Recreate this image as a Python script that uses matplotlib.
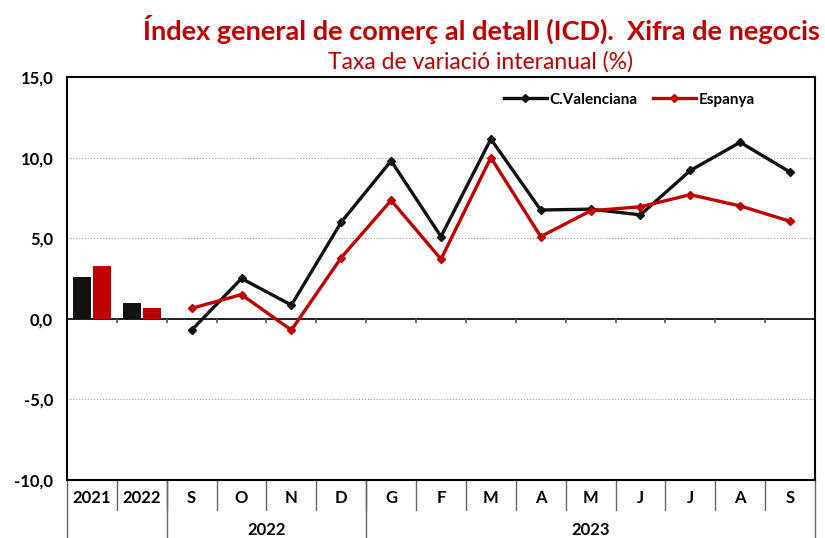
import matplotlib.pyplot as plt
import numpy as np

plt.rcParams['font.family'] = ['Lato', 'DejaVu Sans']

# dades
cats = ['2021', '2022', 'S', 'O', 'N', 'D', 'G', 'F', 'M', 'A', 'M', 'J', 'J', 'A', 'S']
anys = ['2022', '2023']
bar_cv = [2.6, 1.0]
bar_es = [3.25, 0.7]
cv = [-0.7, 2.5, 0.85, 6.0, 9.8, 5.1, 11.15, 6.75, 6.8, 6.45, 9.2, 10.95, 9.1]
es = [0.65, 1.5, -0.7, 3.8, 7.35, 3.7, 10.0, 5.1, 6.7, 6.95, 7.7, 7.0, 6.05]

negre = '#111111'
vermell = '#C00000'

fig = plt.figure(figsize=(8.25, 5.38), dpi=100)
ax = fig.add_axes([67/825, 1-480/538, 748/825, 403/538])

x = np.arange(len(cats))
w = 0.36
ax.bar(x[:2] - 0.2, bar_cv, w, color=negre, zorder=3)
ax.bar(x[:2] + 0.2, bar_es, w, color=vermell, zorder=3)

xl = x[2:]
ax.plot(xl, cv, color=negre, lw=2.4, marker='D', ms=4.5, label='C.Valenciana', zorder=4)
ax.plot(xl, es, color=vermell, lw=2.4, marker='D', ms=4.5, label='Espanya', zorder=4)

ax.set_xlim(-0.5, len(cats) - 0.5)
ax.set_ylim(-10, 15)
ax.set_yticks([-10, -5, 0, 5, 10, 15])
ax.set_yticklabels(['-10,0', '-5,0', '0,0', '5,0', '10,0', '15,0'], fontweight='bold', fontsize=12)
ax.yaxis.grid(True, ls=':', color='#999999', lw=0.8)
ax.tick_params(axis='y', length=0, pad=10)
ax.axhline(0, color='black', lw=1.2, zorder=2)

# marques a l'eix zero
ax.vlines(x[1:] - 0.5, -0.28, 0, color='#555555', lw=1.2, zorder=2)

ax.set_xticks(x)
ax.set_xticklabels(cats, fontweight='bold', fontsize=12)
ax.tick_params(axis='x', length=0, pad=7)

for s in ax.spines.values():
    s.set_linewidth(1.5)

# taula inferior
tr = ax.get_xaxis_transform()
for b in x[1:] - 0.5:
    ax.plot([b, b], [0, -0.075], transform=tr, color='#666666', lw=1, clip_on=False)
for b in [-0.5, 1.5, 5.5, 14.5]:
    ax.plot([b, b], [0, -0.145], transform=tr, color='#666666', lw=1, clip_on=False)
ax.text(3.5, -0.125, anys[0], transform=tr, ha='center', va='center', fontweight='bold', fontsize=12)
ax.text(10, -0.125, anys[1], transform=tr, ha='center', va='center', fontweight='bold', fontsize=12)

ax.legend(loc='upper center', bbox_to_anchor=(0.752, 0.995), ncol=2, frameon=False,
          prop={'weight': 'bold', 'size': 11}, handlelength=2.8, columnspacing=1.0,
          handletextpad=0.2)

fig.text(820/825, 1-29/538, 'Índex general de comerç al detall (ICD).  Xifra de negocis',
         ha='right', va='center', color=vermell, fontweight='bold', fontsize=19.5)
fig.text(481/825, 1-62/538, 'Taxa de variació interanual (%)', ha='center', va='center',
         color=vermell, fontsize=16.5)

fig.savefig('out.png', dpi=100)
